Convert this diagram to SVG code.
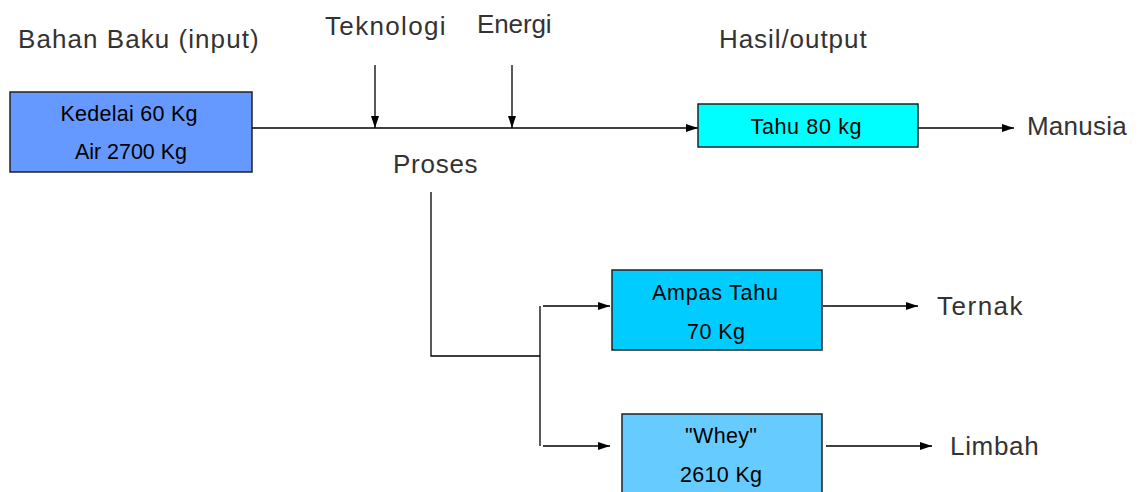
<svg xmlns="http://www.w3.org/2000/svg" width="1140" height="492" viewBox="0 0 1140 492">
<defs>
<style>
.lbl{font-family:"Liberation Sans",Arial,sans-serif;font-size:26px;fill:#333;letter-spacing:1.4px}
.bt{font-family:"Liberation Sans",Arial,sans-serif;font-size:21.5px;fill:#000;text-anchor:middle}
.box{stroke:#222;stroke-width:1.5}
.ln{stroke:#000;stroke-width:1.3;fill:none}
</style>
<marker id="ah" viewBox="0 0 12 10" refX="12" refY="5" markerWidth="12" markerHeight="10" markerUnits="userSpaceOnUse" orient="auto">
<path d="M0,1 L12,5 L0,9 z" fill="#000"/>
</marker>
</defs>
<rect width="1140" height="492" fill="#fff"/>
<g id="labels">
<text class="lbl" x="18" y="48" textLength="242">Bahan Baku (input)</text>
<text class="lbl" x="325" y="35" textLength="122">Teknologi</text>
<text class="lbl" x="477" y="33" textLength="76">Energi</text>
<text class="lbl" x="393" y="173" textLength="86">Proses</text>
<text class="lbl" x="719" y="48" textLength="149">Hasil/output</text>
<text class="lbl" x="1027" y="135" textLength="101">Manusia</text>
<text class="lbl" x="937" y="315" textLength="87">Ternak</text>
<text class="lbl" x="950" y="455" textLength="90">Limbah</text>
</g>
<g id="connectors">
<line class="ln" x1="252" y1="128" x2="698" y2="128" marker-end="url(#ah)"/>
<line class="ln" x1="375" y1="65" x2="375" y2="128" marker-end="url(#ah)"/>
<line class="ln" x1="512" y1="65" x2="512" y2="128" marker-end="url(#ah)"/>
<line class="ln" x1="918" y1="128" x2="1014" y2="128" marker-end="url(#ah)"/>
<polyline class="ln" points="431,192 431,356 540,356"/>
<line class="ln" x1="540" y1="306" x2="540" y2="446"/>
<line class="ln" x1="543" y1="306" x2="610" y2="306" marker-end="url(#ah)"/>
<line class="ln" x1="543" y1="446" x2="610" y2="446" marker-end="url(#ah)"/>
<line class="ln" x1="823" y1="306" x2="918" y2="306" marker-end="url(#ah)"/>
<line class="ln" x1="826" y1="446" x2="932" y2="446" marker-end="url(#ah)"/>
</g>
<g id="node-bahan">
<rect class="box" x="10" y="92" width="242" height="80" fill="#6699FF"/>
<text class="bt" x="129" y="121" textLength="137">Kedelai 60 Kg</text>
<text class="bt" x="131" y="159" textLength="112">Air 2700 Kg</text>
</g>
<g id="node-tahu">
<rect class="box" x="698" y="104" width="220" height="43" fill="#00FFFF"/>
<text class="bt" x="806" y="134" textLength="111">Tahu 80 kg</text>
</g>
<g id="node-ampas">
<rect class="box" x="612" y="270" width="210" height="80" fill="#00CCFF"/>
<text class="bt" x="715" y="300" textLength="126">Ampas Tahu</text>
<text class="bt" x="716" y="339" textLength="58">70 Kg</text>
</g>
<g id="node-whey">
<rect class="box" x="622" y="414" width="200" height="82" fill="#66CCFF"/>
<text class="bt" x="721" y="443" textLength="72">"Whey"</text>
<text class="bt" x="721" y="482" textLength="82">2610 Kg</text>
</g>
</svg>
